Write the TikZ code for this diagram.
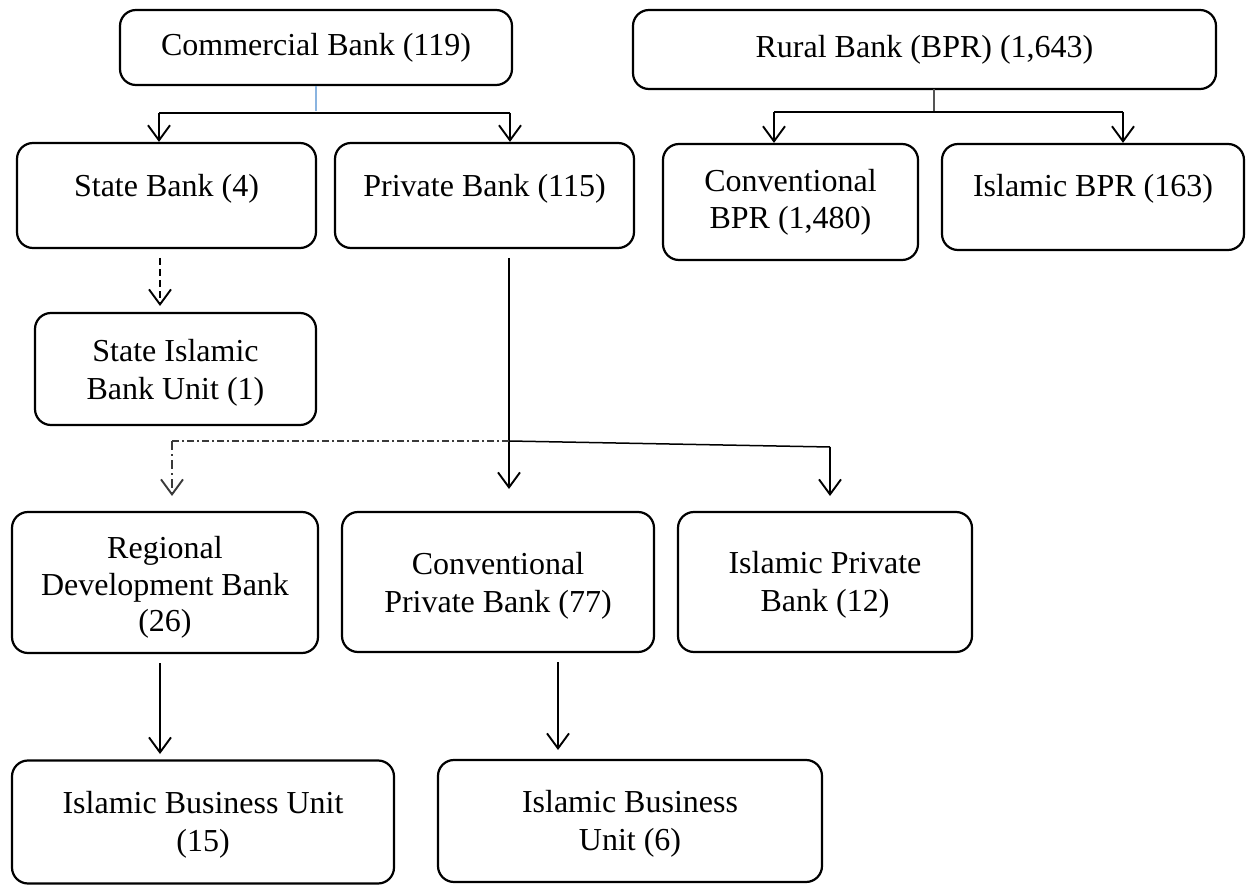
\documentclass[tikz,border=0pt]{standalone}
\usepackage{fontspec}
\setmainfont{Liberation Serif}
\usetikzlibrary{arrows.meta,calc}
\definecolor{stubblue}{HTML}{8AB4E0}
\definecolor{stubgray}{HTML}{555555}
\definecolor{dotgray}{HTML}{3A3A3A}
\tikzset{
  bank/.style={draw, line width=2.2pt, rounded corners=16pt, inner sep=0pt,
    align=center, font=\fontsize{32}{37}\selectfont},
  txt/.style={font=\fontsize{32}{37.5}\selectfont, inner sep=0pt, align=center},
  label text/.style={font=\fontsize{32}{37}\selectfont, inner sep=0pt, anchor=base},
  arr/.style={line width=1.9pt, -{Straight Barb[length=15pt,width=22pt,line width=1.9pt]}},
  link/.style={line width=1.5pt},
}
\begin{document}
\begin{tikzpicture}[x=1pt,y=-1pt]
\useasboundingbox (0,0) rectangle (1251,885);

% top level
\node[bank, minimum width=392pt, minimum height=75pt] (com) at (316,47.5) {Commercial Bank (119)};
\node[bank, minimum width=583pt, minimum height=79pt] (rur) at (924.5,49.5) {Rural Bank (BPR) (1,643)};

% second level
\node[bank, minimum width=299pt, minimum height=105pt] (sta) at (166.5,195.5) {};
\node[label text] (staT) at (166.5,197) {State Bank (4)};
\node[bank, minimum width=299pt, minimum height=105pt] (pri) at (484.5,195.5) {};
\node[label text] (priT) at (484.5,197) {Private Bank (115)};
\node[bank, minimum width=255pt, minimum height=116pt] (cbpr) at (790.5,202) {Conventional\\BPR (1,480)};
\node[bank, minimum width=302pt, minimum height=106pt] (ibpr) at (1093,197) {};
\node[label text] (ibprT) at (1093,197) {Islamic BPR (163)};

% third level
\node[bank, minimum width=281pt, minimum height=112pt] (siu) at (175.5,369) {};
\node[txt] (siuT) at ($(siu.center)+(0,4)$) {State Islamic\\Bank Unit (1)};
\node[bank, minimum width=306pt, minimum height=141pt] (rdb) at (165,582.5) {};
\node[txt] (rdbT) at ($(rdb.center)+(0,5)$) {Regional\\[-1pt]Development Bank\\[-1pt](26)};
\node[bank, minimum width=312pt, minimum height=140pt] (cpb) at (498,582) {};
\node[txt] (cpbT) at ($(cpb.center)+(0,4)$) {Conventional\\Private Bank (77)};
\node[bank, minimum width=294pt, minimum height=140pt] (ipb) at (825,582) {};
\node[txt] (ipbT) at ($(ipb.center)+(0,3)$) {Islamic Private\\Bank (12)};

% bottom level
\node[bank, minimum width=382pt, minimum height=123pt] (ibuA) at (203,822) {};
\node[txt] (ibuAT) at ($(ibuA.center)+(0,3)$) {Islamic Business Unit\\[1pt](15)};
\node[bank, minimum width=384pt, minimum height=122pt] (ibuB) at (630,821) {};
\node[txt] (ibuBT) at ($(ibuB.center)+(0,3)$) {Islamic Business\\[1pt]Unit (6)};

% branching points
\coordinate (comL) at (159,113);
\coordinate (comR) at (510,113);
\coordinate (rurL) at (774,112);
\coordinate (rurR) at (1123,112);
\coordinate (priSplit) at (509,441);
\coordinate (ipbTurn) at (830,447);
\coordinate (rdbTurn) at (172,441);

% commercial bank split
\draw[stubblue, line width=1.5pt] (com.south) -- (com.south |- 0,111);
\draw[link] (comL) -- (comR);
\draw[arr] (comL) -- (comL |- sta.north);
\draw[arr] (comR) -- (comR |- pri.north);

% rural bank split
\draw[stubgray, line width=1.5pt] (934,89) -- (934,111);
\draw[link] (rurL) -- (rurR);
\draw[arr] (rurL) -- (rurL |- cbpr.north);
\draw[arr] (rurR) -- (rurR |- ibpr.north);

% state bank to its islamic unit
\draw[arr, dashed, dash pattern=on 7pt off 4pt] (160,258) -- (160,306);

% private bank branches
\draw[arr] (509,258) -- (509,489);
\draw[link] (priSplit) -- (ipbTurn);
\draw[arr] (ipbTurn) -- (830,496);
\draw[dotgray, line width=1.5pt, dash pattern=on 7pt off 3pt on 2pt off 3pt] (priSplit) -- (rdbTurn);
\draw[arr, dotgray, dash pattern=on 9pt off 4pt on 2pt off 4pt] (rdbTurn) -- (172,496);

% islamic business units
\draw[arr] (160,663) -- (160,754);
\draw[arr] (558,662) -- (558,750);
\end{tikzpicture}
\end{document}
